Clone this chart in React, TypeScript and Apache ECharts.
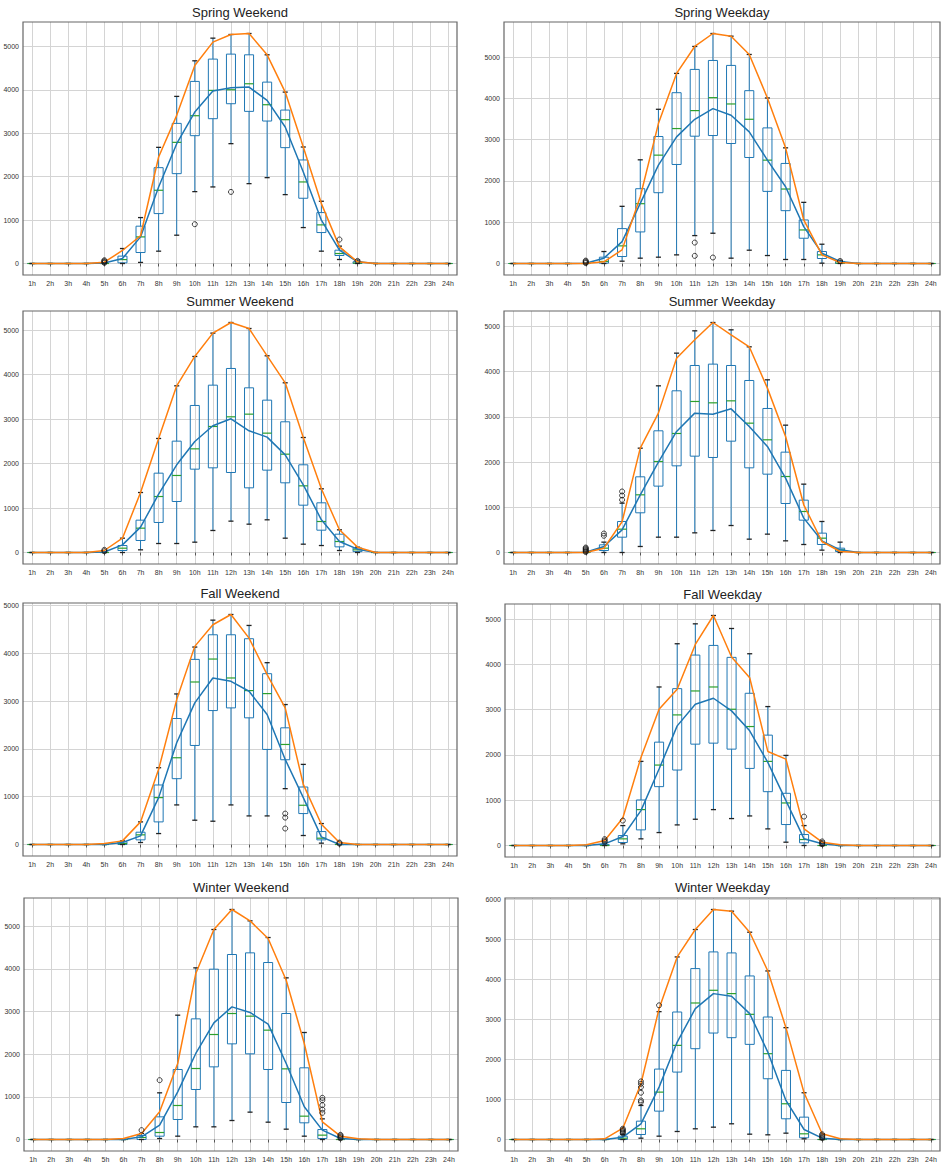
import React, { useEffect, useRef } from "react";
import * as echarts from "echarts";

type Box = [number, number, number, number, number];
const Z: Box = [0, 0, 0, 0, 0];

const HOURS = ["1h","2h","3h","4h","5h","6h","7h","8h","9h","10h","11h","12h","13h","14h","15h","16h","17h","18h","19h","20h","21h","22h","23h","24h"];

// ---------- Spring Weekend ----------
const springWeekendBoxes: Box[] = [Z, Z, Z, Z, Z,
  [0, 15, 90, 170, 345], [25, 253, 613, 860, 1058], [284, 1150, 1687, 2208, 2676], [652, 2070, 2791, 3228, 3850],
  [1656, 2945, 3405, 4195, 4670], [1764, 3336, 3988, 4709, 5192], [2761, 3681, 4003, 4824, 5276], [1840, 3505, 4141, 4808, 5299],
  [1978, 3282, 3658, 4179, 4808], [1587, 2669, 3313, 3535, 3949], [828, 1503, 1879, 2385, 2684], [284, 713, 890, 1173, 1434],
  [92, 184, 230, 307, 400], [0, 0, 10, 40, 80], Z, Z, Z, Z, Z];
const springWeekendMean = [0,0,0,0,10,115,613,1764,2760,3490,3972,4049,4064,3758,3144,2109,997,307,38,0,0,0,0,0];
const springWeekendPeak = [0,0,0,0,30,300,640,2454,3413,4563,5100,5276,5299,4808,3949,2684,1380,383,38,0,0,0,0,0];
const springWeekendOutliers = [[4,15],[4,35],[4,55],[4,75],[9,905],[11,1649],[17,552],[18,60]];

// ---------- Spring Weekday ----------
const springWeekdayBoxes: Box[] = [Z, Z, Z, Z, Z,
  [0, 8, 50, 153, 290], [56, 169, 427, 845, 1385], [129, 765, 1449, 1812, 2512], [153, 1715, 2625, 3076, 3736],
  [209, 2399, 3269, 4138, 4605], [676, 3084, 3704, 4702, 5258], [733, 3100, 4018, 4919, 5572], [129, 2907, 3865, 4799, 5507],
  [322, 2568, 3494, 4187, 5064], [193, 1747, 2504, 3285, 4010], [97, 1280, 1804, 2424, 2802], [97, 612, 813, 1055, 1481],
  [8, 121, 209, 290, 467], [0, 0, 10, 50, 80], Z, Z, Z, Z, Z];
const springWeekdayMean = [0,0,0,0,5,129,531,1457,2383,3068,3494,3752,3591,3188,2504,1860,894,250,48,0,0,0,0,0];
const springWeekdayPeak = [0,0,0,0,0,40,330,1618,3390,4605,5258,5572,5507,5064,4010,2802,1055,209,24,0,0,0,0,0];
const springWeekdayOutliers = [[4,10],[4,30],[4,50],[4,70],[10,507],[10,185],[11,145],[18,60]];

// ---------- Summer Weekend ----------
const summerWeekendBoxes: Box[] = [Z, Z, Z, Z, Z,
  [0, 45, 97, 157, 322], [60, 270, 547, 727, 1349], [202, 675, 1259, 1784, 2564], [202, 1147, 1732, 2504, 3748],
  [232, 1874, 2331, 3306, 4408], [495, 1904, 2834, 3763, 4933], [705, 1799, 3051, 4138, 5172], [637, 1454, 3111, 3703, 5037],
  [735, 1852, 2684, 3426, 4423], [322, 1567, 2211, 2939, 3816], [187, 1064, 1499, 1972, 2586], [157, 502, 697, 1117, 1432],
  [45, 127, 247, 412, 510], [0, 20, 60, 100, 120], Z, Z, Z, Z, Z];
const summerWeekendMean = [0,0,0,0,10,172,570,1312,1972,2496,2849,3006,2736,2594,2196,1522,735,247,75,0,0,0,0,0];
const summerWeekendPeak = [0,0,0,0,45,322,1349,2564,3748,4408,4933,5172,5037,4423,3816,2586,1432,510,120,0,0,0,0,0];
const summerWeekendOutliers = [[4,30],[4,60]];

// ---------- Summer Weekday ----------
const summerWeekdayBoxes: Box[] = [Z, Z, Z, Z, Z,
  [0, 44, 96, 170, 229], [0, 339, 516, 686, 1091], [133, 878, 1276, 1674, 2308], [339, 1468, 2013, 2692, 3687],
  [339, 1917, 2633, 3577, 4410], [435, 2131, 3341, 4137, 4904], [487, 2102, 3311, 4167, 5088], [597, 2463, 3355, 4137, 4926],
  [295, 1873, 2861, 3805, 4550], [406, 1733, 2493, 3186, 3820], [258, 1084, 1681, 2220, 2817], [177, 715, 907, 1158, 1512],
  [52, 177, 317, 428, 686], [0, 22, 59, 96, 229], Z, Z, Z, Z, Z];
const summerWeekdayMean = [0,0,0,0,5,133,501,1276,1999,2677,3083,3060,3178,2788,2345,1645,760,258,59,0,0,0,0,0];
const summerWeekdayPeak = [0,0,0,0,0,96,680,2308,3083,4299,4705,5088,4816,4550,3636,2566,1055,243,22,0,0,0,0,0];
const summerWeekdayOutliers = [[4,10],[4,30],[4,50],[4,70],[4,90],[4,110],[5,370],[5,420],[6,1165],[6,1261],[6,1350]];

// ---------- Fall Weekend ----------
const fallWeekendBoxes: Box[] = [Z, Z, Z, Z, Z,
  [0, 0, 20, 56, 76], [42, 97, 202, 257, 473], [229, 473, 981, 1245, 1606], [828, 1377, 1815, 2636, 3150],
  [508, 2072, 3400, 3873, 4131], [487, 2802, 3880, 4388, 4694], [828, 2858, 3484, 4388, 4812], [598, 2650, 3220, 4305, 4583],
  [598, 1989, 3157, 3574, 3804], [1168, 1773, 2093, 2441, 2928], [188, 647, 821, 1203, 1676], [28, 97, 132, 271, 438],
  Z, Z, Z, Z, Z, Z, Z];
const fallWeekendMean = [0,0,0,0,0,42,181,981,2128,2962,3484,3414,3206,2719,1780,981,160,0,0,0,0,0,0,0];
const fallWeekendPeak = [0,0,0,0,20,76,473,1572,3032,4145,4597,4812,4318,3554,2858,1259,424,42,0,0,0,0,0,0];
const fallWeekendOutliers = [[14,647],[14,563],[14,334],[17,20],[17,40]];

// ---------- Fall Weekday ----------
const fallWeekdayBoxes: Box[] = [Z, Z, Z, Z, Z,
  [0, 0, 0, 20, 50], [37, 66, 147, 220, 440], [147, 345, 793, 1006, 1858], [286, 1300, 1777, 2283, 3502],
  [455, 1667, 2885, 3465, 4457], [580, 2239, 3414, 4207, 4897], [793, 2261, 3502, 4420, 5081], [595, 2129, 3010, 4156, 4794],
  [653, 1703, 2628, 3363, 4236], [367, 1189, 1858, 2438, 3069], [73, 463, 940, 1153, 1990], [0, 59, 132, 242, 440],
  Z, Z, Z, Z, Z, Z, Z];
const fallWeekdayMean = [0,0,0,0,0,37,198,771,1689,2643,3120,3253,2974,2533,1836,991,147,37,0,0,0,0,0,0];
const fallWeekdayPeak = [0,0,0,0,15,110,609,1946,3010,3451,4442,5081,4163,3708,2078,1909,367,73,15,0,0,0,0,0];
const fallWeekdayOutliers = [[5,80],[5,110],[5,140],[6,551],[16,639],[17,30],[17,60],[17,90]];

// ---------- Winter Weekend ----------
const winterWeekendBoxes: Box[] = [Z, Z, Z, Z, Z, Z,
  [0, 0, 47, 94, 141], [23, 78, 164, 531, 1094], [78, 469, 797, 1641, 2914],
  [297, 1172, 1664, 2828, 4023], [297, 1703, 2461, 3992, 4922], [445, 2242, 2953, 4336, 5391], [641, 2008, 2891, 4375, 5125],
  [406, 1641, 2563, 4148, 4734], [242, 867, 1656, 2953, 3789], [78, 391, 547, 1680, 2508], [0, 23, 102, 234, 484],
  Z, Z, Z, Z, Z, Z, Z];
const winterWeekendMean = [0,0,0,0,0,0,62,336,1117,2016,2734,3109,2977,2703,1781,766,219,23,0,0,0,0,0,0];
const winterWeekendPeak = [0,0,0,0,0,23,141,648,1781,3891,4922,5391,5125,4711,3734,2250,414,78,15,0,0,0,0,0];
const winterWeekendOutliers = [[6,219],[7,1391],[16,625],[16,703],[16,805],[16,922],[16,977],[17,30],[17,60],[17,90],[17,110]];

// ---------- Winter Weekday ----------
const winterWeekdayBoxes: Box[] = [Z, Z, Z, Z, Z, Z,
  [0, 0, 33, 83, 130], [33, 125, 267, 458, 850], [83, 708, 1183, 1758, 3192],
  [200, 1683, 2350, 3183, 4558], [267, 2267, 3408, 4267, 5242], [308, 2658, 3725, 4683, 5742], [392, 2542, 3642, 4658, 5700],
  [133, 2375, 3125, 4083, 5175], [117, 1517, 2142, 3058, 4208], [158, 517, 892, 1725, 2792], [17, 42, 142, 558, 1167],
  Z, Z, Z, Z, Z, Z, Z];
const winterWeekdayMean = [0,0,0,0,0,0,58,392,1308,2433,3267,3642,3575,3142,2183,975,250,33,0,0,0,0,0,0];
const winterWeekdayPeak = [0,0,0,0,0,17,283,1392,3267,4558,5242,5742,5700,5175,4208,2792,1167,142,17,0,0,0,0,0];
const winterWeekdayOutliers = [[6,150],[6,180],[6,210],[6,240],[6,270],[7,933],[7,975],[7,1167],[7,1308],[7,1392],[7,1450],[8,3350],[17,40],[17,70],[17,100],[17,130]];

const TITLES = ["Spring Weekend", "Spring Weekday", "Summer Weekend", "Summer Weekday", "Fall Weekend", "Fall Weekday", "Winter Weekend", "Winter Weekday"];
const BOXES = [springWeekendBoxes, springWeekdayBoxes, summerWeekendBoxes, summerWeekdayBoxes, fallWeekendBoxes, fallWeekdayBoxes, winterWeekendBoxes, winterWeekdayBoxes];
const MEANS = [springWeekendMean, springWeekdayMean, summerWeekendMean, summerWeekdayMean, fallWeekendMean, fallWeekdayMean, winterWeekendMean, winterWeekdayMean];
const PEAKS = [springWeekendPeak, springWeekdayPeak, summerWeekendPeak, summerWeekdayPeak, fallWeekendPeak, fallWeekdayPeak, winterWeekendPeak, winterWeekdayPeak];
const OUTLIERS = [springWeekendOutliers, springWeekdayOutliers, summerWeekendOutliers, summerWeekdayOutliers, fallWeekendOutliers, fallWeekdayOutliers, winterWeekendOutliers, winterWeekdayOutliers];

// layout (pixels)
const LAYOUT = [
  { left: 23, top: 22, width: 434, height: 253, titleY: 12 },
  { left: 504, top: 22, width: 436, height: 253, titleY: 12 },
  { left: 23, top: 311, width: 434, height: 253, titleY: 301 },
  { left: 504, top: 311, width: 436, height: 253, titleY: 301 },
  { left: 23, top: 603, width: 434, height: 253, titleY: 593 },
  { left: 505, top: 604, width: 435, height: 253, titleY: 594 },
  { left: 24, top: 898, width: 434, height: 253, titleY: 887 },
  { left: 505, top: 898, width: 435, height: 253, titleY: 887 },
];

const FONT = "'Liberation Sans', Arial, sans-serif";
const BLUE = "#1f77b4";
const ORANGE = "#ff7f0e";
const GREEN = "#2ca02c";

function buildOption() {
  const grid: any[] = [];
  const xAxis: any[] = [];
  const yAxis: any[] = [];
  const series: any[] = [];
  const graphic: any[] = [];

  TITLES.forEach((title, k) => {
    const L = LAYOUT[k];
    const boxes = BOXES[k];
    const out = OUTLIERS[k];
    let top = 0;
    boxes.forEach((b) => b.forEach((v) => (top = Math.max(top, v))));
    PEAKS[k].forEach((v) => (top = Math.max(top, v)));
    MEANS[k].forEach((v) => (top = Math.max(top, v)));
    out.forEach((o) => (top = Math.max(top, o[1])));
    const pad = top * 0.05;

    grid.push({ left: L.left, top: L.top, width: L.width, height: L.height, containLabel: false });
    xAxis.push({
      type: "category",
      gridIndex: k,
      data: HOURS,
      boundaryGap: true,
      axisLine: { show: false },
      axisTick: { show: true, alignWithLabel: true, interval: 0, length: 3, lineStyle: { color: "#555" } },
      axisLabel: { interval: 0, fontSize: 7, color: "#333", margin: 5, fontFamily: FONT },
      splitLine: { show: true, alignWithLabel: true, interval: 0, lineStyle: { color: "#d4d4d4", width: 1 } },
    });
    yAxis.push({
      type: "value",
      gridIndex: k,
      min: -pad,
      max: top + pad,
      minInterval: 1000,
      maxInterval: 1000,
      axisLine: { show: false },
      axisTick: { show: false },
      axisLabel: {
        fontSize: 7, color: "#333", margin: 4, fontFamily: FONT,
        formatter: (v: number) => (Math.abs(v % 1000) < 1e-6 ? String(Math.round(v)) : ""),
      },
      splitLine: { show: true, showMinLine: false, showMaxLine: false, lineStyle: { color: "#d4d4d4", width: 1 } },
    });

    series.push({
      type: "custom",
      xAxisIndex: k,
      yAxisIndex: k,
      z: 2,
      data: boxes.map((b, i) => [i, ...b]),
      encode: { x: 0, y: [1, 2, 3, 4, 5] },
      renderItem: (params: any, api: any) => {
        const x = api.value(0);
        const lo = api.coord([x, api.value(1)]);
        const q1 = api.coord([x, api.value(2)]);
        const md = api.coord([x, api.value(3)]);
        const q3 = api.coord([x, api.value(4)]);
        const hi = api.coord([x, api.value(5)]);
        const band = api.size([1, 0])[0];
        const bw = band * 0.5;
        const cw = band * 0.28;
        const cx = lo[0];
        const ws = { stroke: BLUE, lineWidth: 1, fill: "none" };
        return {
          type: "group",
          children: [
            { type: "line", shape: { x1: cx, y1: lo[1], x2: cx, y2: q1[1] }, style: ws },
            { type: "line", shape: { x1: cx, y1: q3[1], x2: cx, y2: hi[1] }, style: ws },
            { type: "rect", shape: { x: cx - bw / 2, y: q3[1], width: bw, height: q1[1] - q3[1] }, style: { stroke: BLUE, lineWidth: 1, fill: "none" } },
            { type: "line", shape: { x1: cx - bw / 2, y1: md[1], x2: cx + bw / 2, y2: md[1] }, style: { stroke: GREEN, lineWidth: 1.2 } },
            { type: "line", shape: { x1: cx - cw / 2, y1: lo[1], x2: cx + cw / 2, y2: lo[1] }, style: { stroke: "#222", lineWidth: 1.3 } },
            { type: "line", shape: { x1: cx - cw / 2, y1: hi[1], x2: cx + cw / 2, y2: hi[1] }, style: { stroke: "#222", lineWidth: 1.3 } },
          ],
        };
      },
    });
    series.push({
      type: "line", xAxisIndex: k, yAxisIndex: k, z: 4, data: MEANS[k],
      symbol: "none", showSymbol: false, lineStyle: { color: BLUE, width: 1.5 }, itemStyle: { color: BLUE },
    });
    series.push({
      type: "line", xAxisIndex: k, yAxisIndex: k, z: 5, data: PEAKS[k],
      symbol: "none", showSymbol: false, lineStyle: { color: ORANGE, width: 1.5 }, itemStyle: { color: ORANGE },
    });
    series.push({
      type: "scatter", xAxisIndex: k, yAxisIndex: k, z: 6, data: out,
      symbol: "circle", symbolSize: 5,
      itemStyle: { color: "rgba(0,0,0,0)", borderColor: "#111", borderWidth: 1 },
    });

    graphic.push({
      type: "rect", z: 100, silent: true,
      shape: { x: L.left, y: L.top, width: L.width, height: L.height },
      style: { fill: "none", stroke: "#666", lineWidth: 1.2 },
    });
    graphic.push({
      type: "text", z: 100, silent: true,
      x: L.left + L.width / 2, y: L.titleY,
      style: { text: title, fill: "#222", font: `13px ${FONT}`, textAlign: "center", textVerticalAlign: "middle" },
    });
  });

  return { animation: false, backgroundColor: "#ffffff", grid, xAxis, yAxis, series, graphic };
}

export default function App() {
  const ref = useRef<HTMLDivElement>(null);
  useEffect(() => {
    if (!ref.current) return;
    const chart = echarts.init(ref.current, null, { renderer: "svg" });
    chart.setOption(buildOption() as any);
    return () => chart.dispose();
  }, []);
  return <div ref={ref} style={{ position: "absolute", left: 0, top: 0, width: 946, height: 1169 }} />;
}
